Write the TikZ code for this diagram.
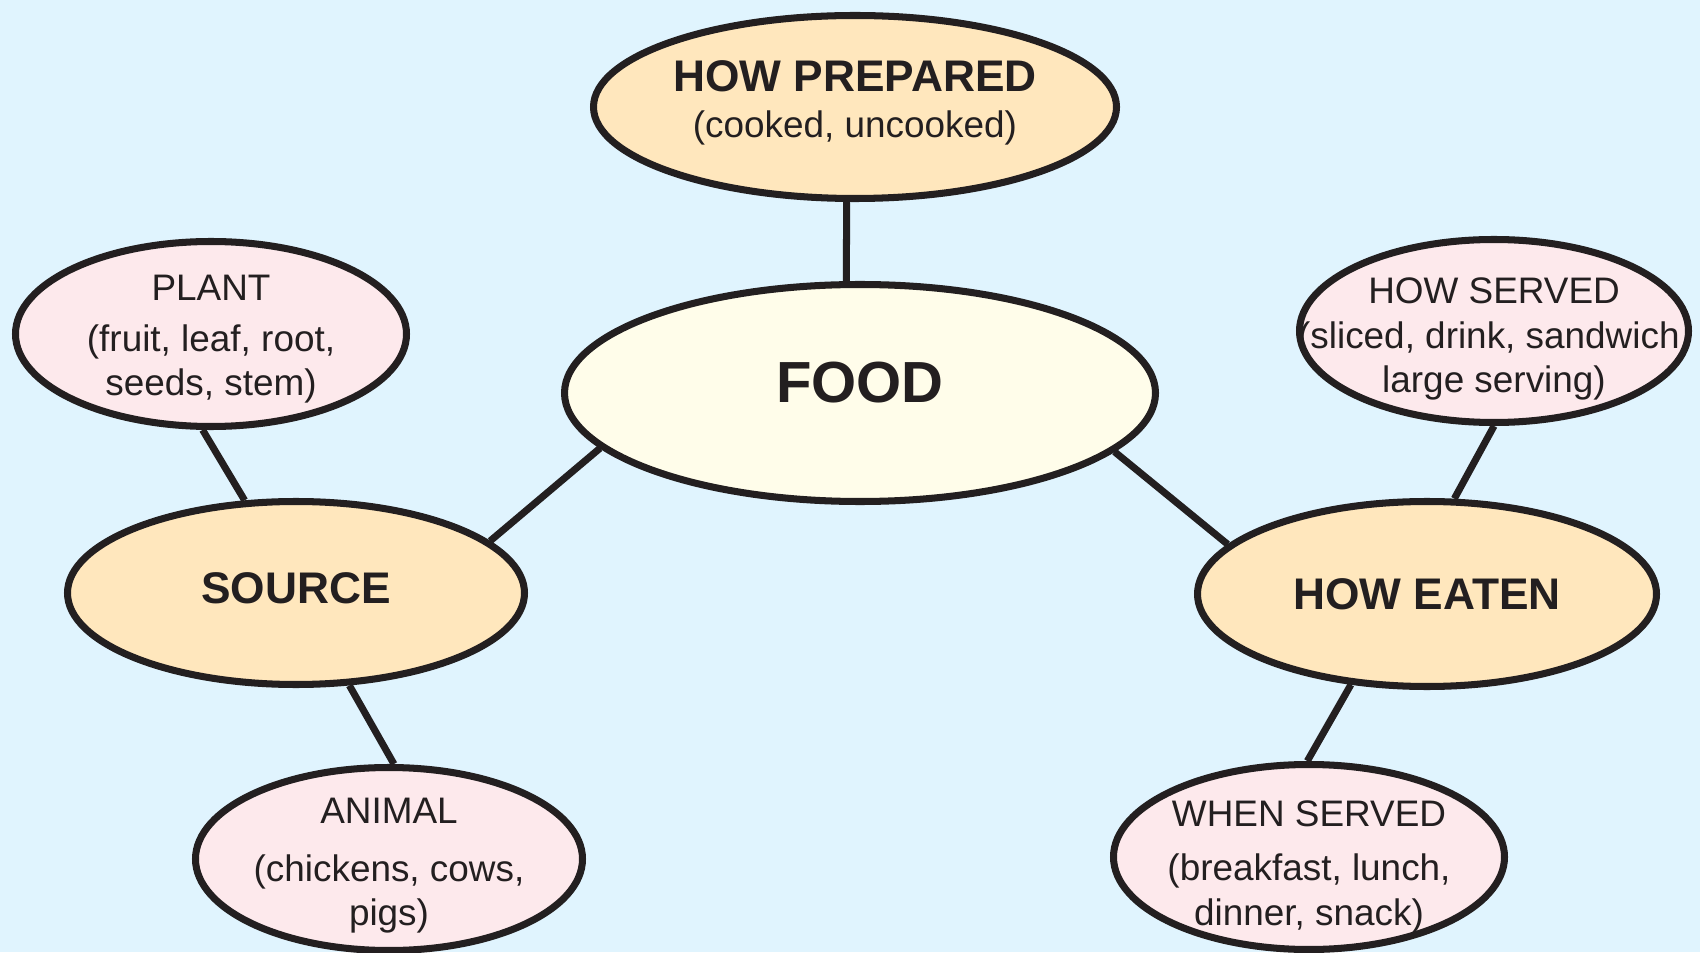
\documentclass[tikz,border=0pt]{standalone}
\usepackage{fontspec}
\setmainfont{Liberation Sans}
\usetikzlibrary{shapes.geometric}

\definecolor{bgblue}{HTML}{E0F4FE}
\definecolor{topicfill}{HTML}{FFE7BD}
\definecolor{leaffill}{HTML}{FDE9EC}
\definecolor{corefill}{HTML}{FFFDEA}
\definecolor{ink}{HTML}{231F20}

\tikzset{
  bubble/.style={ellipse, draw=ink, line width=2pt, inner sep=0pt},
  corebubble/.style={bubble, fill=corefill},
  topicbubble/.style={bubble, fill=topicfill},
  leafbubble/.style={bubble, fill=leaffill},
  link/.style={draw=ink, line width=2pt},
  coretext/.style={font=\fontsize{16.5}{20}\selectfont\bfseries, text=ink, inner sep=0pt},
  topictext/.style={font=\fontsize{12.6}{15}\selectfont\bfseries, text=ink, align=center, inner sep=0pt},
  leaftext/.style={font=\fontsize{10.5}{12.7}\selectfont, text=ink, align=center, inner sep=0pt},
}

\begin{document}
\begin{tikzpicture}
  \useasboundingbox (0,0) rectangle (17,9.52);
  \fill[bgblue] (0,0) rectangle (17,9.52);

  % bubbles
  \node[corebubble,  minimum width=5.91cm, minimum height=2.17cm] (food)   at (8.60,5.59) {};
  \node[topicbubble, minimum width=5.23cm, minimum height=1.83cm] (prep)   at (8.55,8.45) {};
  \node[topicbubble, minimum width=4.57cm, minimum height=1.83cm] (source) at (2.96,3.59) {};
  \node[topicbubble, minimum width=4.59cm, minimum height=1.85cm] (eaten)  at (14.27,3.58) {};
  \node[leafbubble,  minimum width=3.91cm, minimum height=1.85cm] (plant)  at (2.11,6.18) {};
  \node[leafbubble,  minimum width=3.87cm, minimum height=1.83cm] (animal) at (3.89,0.93) {};
  \node[leafbubble,  minimum width=3.89cm, minimum height=1.83cm] (served) at (14.94,6.21) {};
  \node[leafbubble,  minimum width=3.91cm, minimum height=1.85cm] (when)   at (13.09,0.95) {};

  % labels
  \node[coretext, yshift=0.1cm]   (food-t)   at (food)   {FOOD};
  \node[topictext, yshift=0.04cm] (prep-t)   at (prep)   {HOW PREPARED\\[-2pt]{\mdseries\fontsize{10.5}{12.7}\selectfont (cooked, uncooked)}};
  \node[topictext, yshift=0.05cm] (source-t) at (source) {SOURCE};
  \node[topictext]                (eaten-t)  at (eaten)  {HOW EATEN};
  \node[leaftext, yshift=-0.05cm] (plant-t)  at (plant)  {PLANT\\[1.8pt](fruit, leaf, root,\\seeds, stem)};
  \node[leaftext, yshift=-0.07cm] (animal-t) at (animal) {ANIMAL\\[3.6pt](chickens, cows,\\pigs)};
  \node[leaftext, yshift=-0.08cm] (served-t) at (served) {HOW SERVED\\(sliced, drink, sandwich,\\large serving)};
  \node[leaftext, yshift=-0.1cm]  (when-t)   at (when)   {WHEN SERVED\\[2.8pt](breakfast, lunch,\\dinner, snack)};

  % connectors
  \draw[link] (prep.265.8)   -- (food.97.7);
  \draw[link] (food.192.6)   -- (source.15.1);
  \draw[link] (food.-13.6)   -- (eaten.166.4);
  \draw[link] (plant.265.9)  -- (source.119.5);
  \draw[link] (source.-60.1) -- (animal.87);
  \draw[link] (served.270)   -- (eaten.74.1);
  \draw[link] (eaten.230.4)  -- (when.91.8);
\end{tikzpicture}
\end{document}
